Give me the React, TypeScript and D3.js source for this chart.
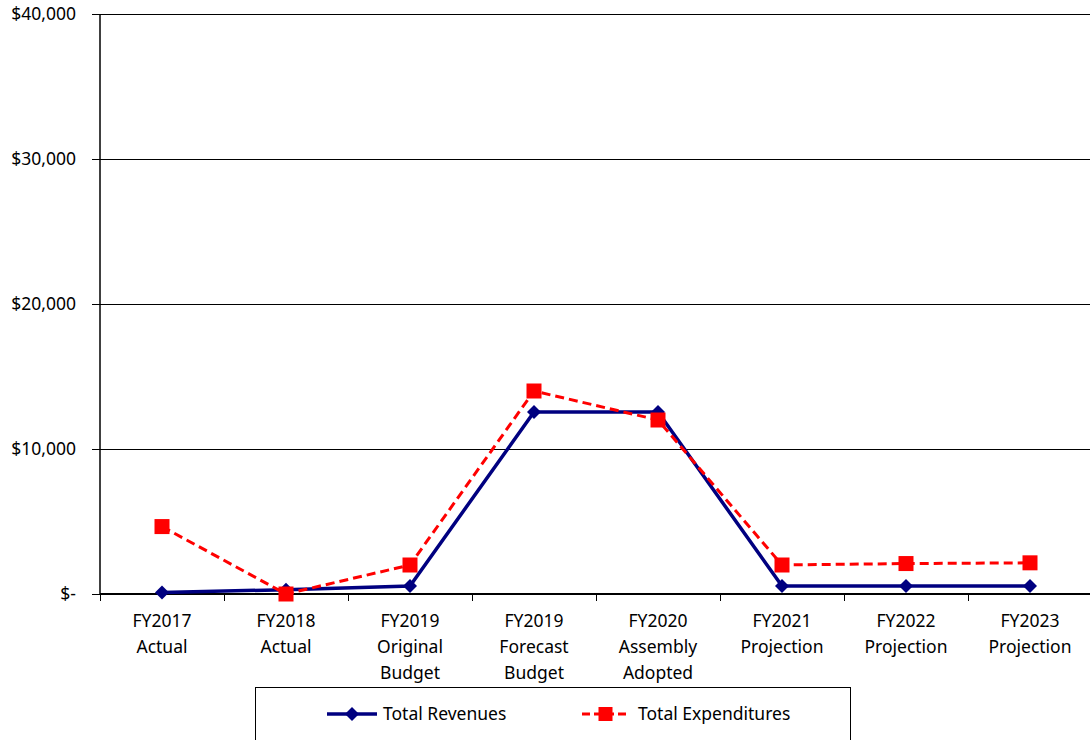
import React from "react";
import * as d3 from "d3";

const categories = [
  ["FY2017", "Actual"],
  ["FY2018", "Actual"],
  ["FY2019", "Original", "Budget"],
  ["FY2019", "Forecast", "Budget"],
  ["FY2020", "Assembly", "Adopted"],
  ["FY2021", "Projection"],
  ["FY2022", "Projection"],
  ["FY2023", "Projection"],
];
const revenues = [100, 300, 550, 12550, 12550, 550, 550, 550];
const expenditures = [4650, 0, 2000, 14000, 12000, 2000, 2100, 2150];
const yTicks = [0, 10000, 20000, 30000, 40000];
const yTickLabels = ["$-", "$10,000", "$20,000", "$30,000", "$40,000"];

export default function App() {
  const W = 1090, H = 740;
  const left = 100, right = 1092, top = 14, bottom = 594;
  const x = d3.scaleBand<number>().domain(d3.range(categories.length)).range([left, right]);
  const y = d3.scaleLinear().domain([0, 40000]).range([bottom, top]);
  const cx = (i: number) => (x(i) as number) + x.bandwidth() / 2;
  const line = d3.line<number>().x((_, i) => cx(i)).y((d) => y(d));
  const font = "'Segoe UI', 'Noto Sans', sans-serif";
  const fs = 17.5;
  const diamond = (px: number, py: number, r: number) =>
    `M${px},${py - r}L${px + r},${py}L${px},${py + r}L${px - r},${py}Z`;

  return (
    <svg width={W} height={H} style={{ position: "absolute", left: 0, top: 0 }} fontFamily={font}>
      {yTicks.map((t, i) => (
        <g key={i}>
          <line x1={92} x2={i === 0 ? right : W} y1={y(t) + 0.5} y2={y(t) + 0.5} stroke="#000" strokeWidth={1} shapeRendering="crispEdges" />
          <text x={76} y={y(t)} dy="0.35em" textAnchor="end" fontSize={fs} fill="#000">
            {yTickLabels[i]}
          </text>
        </g>
      ))}
      <line x1={left} x2={left} y1={top} y2={bottom} stroke="#000" strokeWidth={1.5} />
      <line x1={left} x2={right} y1={bottom} y2={bottom} stroke="#000" strokeWidth={2} />
      {d3.range(categories.length + 1).map((i) => {
        const tx = i < categories.length ? (x(i) as number) : right;
        return <line key={i} x1={tx + 0.5} x2={tx + 0.5} y1={bottom} y2={bottom + 7} stroke="#000" strokeWidth={1} shapeRendering="crispEdges" />;
      })}
      {categories.map((lines, i) => (
        <text key={i} x={cx(i)} y={627} textAnchor="middle" fontSize={fs} fill="#000">
          {lines.map((l, j) => (
            <tspan key={j} x={cx(i)} dy={j === 0 ? 0 : 26}>
              {l}
            </tspan>
          ))}
        </text>
      ))}
      <path d={line(revenues) || ""} fill="none" stroke="#000080" strokeWidth={3.5} />
      {revenues.map((v, i) => (
        <path key={i} d={diamond(cx(i), y(v), 7)} fill="#000080" />
      ))}
      <path d={line(expenditures) || ""} fill="none" stroke="#ff0000" strokeWidth={3} strokeDasharray="9,5" />
      {expenditures.map((v, i) => (
        <rect key={i} x={cx(i) - 7.5} y={y(v) - 7.5} width={15} height={15} fill="#ff0000" />
      ))}
      <rect x={255.5} y={687.5} width={595} height={60} fill="#fff" stroke="#000" strokeWidth={1} />
      <line x1={327} x2={377} y1={714} y2={714} stroke="#000080" strokeWidth={3.5} />
      <path d={diamond(352, 714, 7)} fill="#000080" />
      <text x={383} y={714} dy="0.35em" fontSize={fs} fill="#000">Total Revenues</text>
      <line x1={582} x2={629} y1={714} y2={714} stroke="#ff0000" strokeWidth={3} strokeDasharray="8,4" />
      <rect x={598.5} y={707} width={14} height={14} fill="#ff0000" />
      <text x={638} y={714} dy="0.35em" fontSize={fs} fill="#000">Total Expenditures</text>
    </svg>
  );
}
